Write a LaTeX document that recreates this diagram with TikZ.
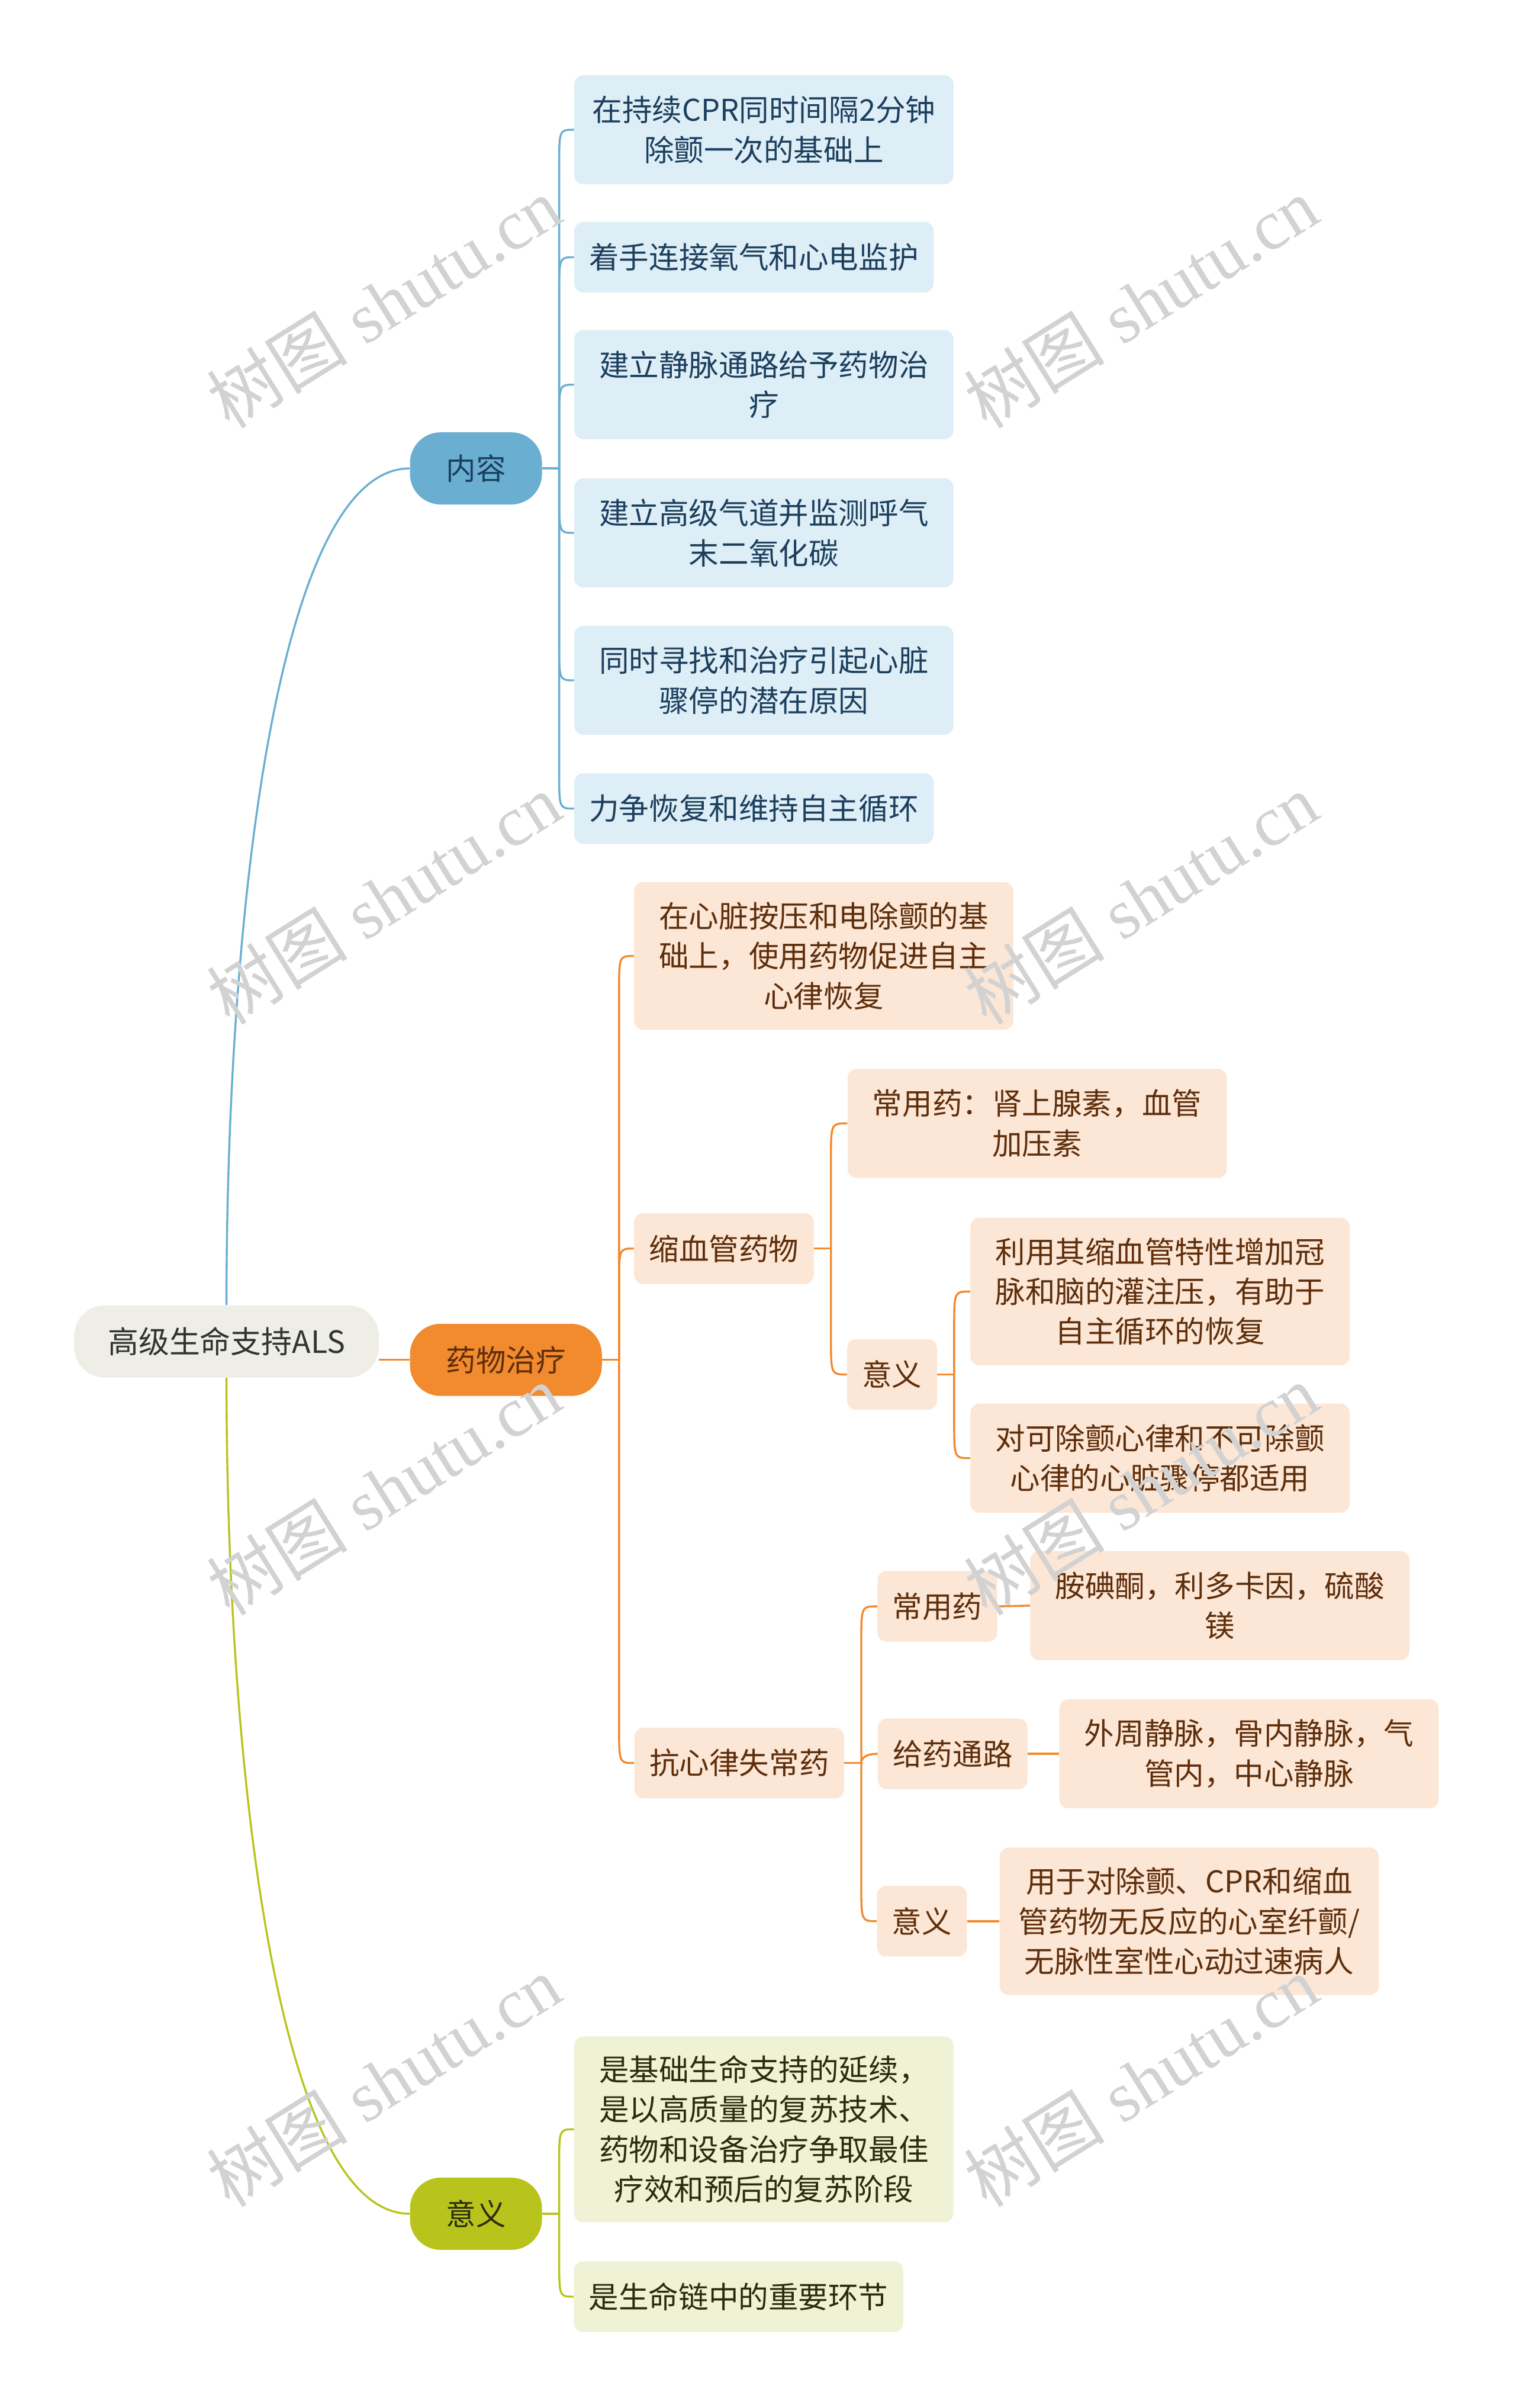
\documentclass[tikz,border=0pt]{standalone}
\usepackage{fontspec}
\newfontfamily\cjk{Noto Sans CJK SC}
\newfontfamily\wmserif{Liberation Serif}
\usetikzlibrary{calc}
\definecolor{rootfill}{HTML}{EEEEE6}
\definecolor{bluemain}{HTML}{6AAFD1}
\definecolor{bluebox}{HTML}{DEEEF6}
\definecolor{bluetext}{HTML}{1C3F5E}
\definecolor{orangemain}{HTML}{F28A2E}
\definecolor{orangebox}{HTML}{FCE6D5}
\definecolor{orangetext}{HTML}{5E2E0B}
\definecolor{greenmain}{HTML}{B8C41C}
\definecolor{greenbox}{HTML}{EFF2D4}
\definecolor{greentext}{HTML}{2A2C0E}
\definecolor{wmgray}{HTML}{D2D2D2}

\tikzset{
  txt/.style={font=\cjk\fontsize{19.5}{26}\selectfont, align=center},
  rootnode/.style={txt, fill=rootfill, text=black!80, rounded corners=20pt,
    minimum height=47pt, inner xsep=22pt, font=\cjk\fontsize{20}{26}\selectfont},
  topic/.style={txt, fill=#1main, text=#1text, rounded corners=20pt,
    minimum height=47pt, inner xsep=23.5pt},
  leaf/.style={txt, fill=#1box, text=#1text, rounded corners=6pt,
    inner xsep=9.75pt, inner ysep=4pt, minimum height=46pt},
  wrapbox/.style={text width=227.5pt},
  l2/.style={minimum height=71pt},
  l3/.style={minimum height=96pt},
  l4/.style={minimum height=121pt},
  link/.style={line width=1.3pt, draw=#1main},
  kidline/.style={link=#1, to path={-- ($(\tikztostart|-\tikztotarget)!24pt!(\tikztostart)$)
    .. controls (\tikztostart|-\tikztotarget) .. (\tikztotarget)}},
  wmtext/.style={text=wmgray, rotate=32, font=\wmserif\fontsize{46}{46}\selectfont}
}

\begin{document}
\begin{tikzpicture}[x=1pt,y=-1pt]
  \useasboundingbox[fill=white] (0,0) rectangle (987,1568);

  % root and main topics
  \node[rootnode] (root) at (147.5,873.5) {高级生命支持ALS};
  \node[topic=blue] (nr) at (310,305) {内容};
  \node[topic=orange] (nd) at (329.5,885.5) {药物治疗};
  \node[topic=green] (ny) at (310,1441.5) {意义};

  \draw[link=blue] (root.north) .. controls ($(root.north)+(0,-250)$) and ($(nr.west)+(-87,0)$) .. (nr.west);
  \draw[link=orange] (root.east |- nd.west) -- (nd.west);
  \draw[link=green] (root.south) .. controls ($(root.south)+(0,250)$) and ($(ny.west)+(-87,0)$) .. (ny.west);

  % 内容
  \node[leaf=blue, wrapbox, l2] (a1) at (497.5,84.5) {在持续CPR同时间隔2分钟\\除颤一次的基础上};
  \node[leaf=blue] (a2) at (491,167.5) {着手连接氧气和心电监护};
  \node[leaf=blue, wrapbox, l2] (a3) at (497.5,250.5) {建立静脉通路给予药物治\\疗};
  \node[leaf=blue, wrapbox, l2] (a4) at (497.5,347) {建立高级气道并监测呼气\\末二氧化碳};
  \node[leaf=blue, wrapbox, l2] (a5) at (497.5,443) {同时寻找和治疗引起心脏\\骤停的潜在原因};
  \node[leaf=blue] (a6) at (491,526.5) {力争恢复和维持自主循环};

  \coordinate (jA) at ($(nr.east)+(11,0)$);
  \draw[link=blue] (nr.east) -- (jA);
  \foreach \k in {a1,a2,a3,a4,a5,a6}
    \draw[kidline=blue] (jA) to (\k.west);

  % 药物治疗
  \node[leaf=orange, wrapbox, l3] (d1) at (536.5,622.5) {在心脏按压和电除颤的基\\础上，使用药物促进自主\\心律恢复};
  \node[leaf=orange] (d2) at (471.5,813) {缩血管药物};
  \node[leaf=orange] (d3) at (481.5,1148) {抗心律失常药};

  \coordinate (jD) at ($(nd.east)+(11,0)$);
  \draw[link=orange] (nd.east) -- (jD);
  \foreach \k in {d1,d2,d3}
    \draw[kidline=orange] (jD) to (\k.west);

  \node[leaf=orange, wrapbox, l2] (d21) at (675.5,731.5) {常用药：肾上腺素，血管\\加压素};
  \node[leaf=orange] (d22) at (581,895) {意义};
  \node[leaf=orange, wrapbox, l3] (d221) at (755.5,841) {利用其缩血管特性增加冠\\脉和脑的灌注压，有助于\\自主循环的恢复};
  \node[leaf=orange, wrapbox, l2] (d222) at (755.5,949.5) {对可除颤心律和不可除颤\\心律的心脏骤停都适用};

  \coordinate (jD2) at ($(d2.east)+(11,0)$);
  \draw[link=orange] (d2.east) -- (jD2);
  \foreach \k in {d21,d22}
    \draw[kidline=orange] (jD2) to (\k.west);
  \coordinate (jD22) at ($(d22.east)+(11,0)$);
  \draw[link=orange] (d22.east) -- (jD22);
  \foreach \k in {d221,d222}
    \draw[kidline=orange] (jD22) to (\k.west);

  \node[leaf=orange] (d31) at (610.5,1046) {常用药};
  \node[leaf=orange, wrapbox, l2] (d311) at (794.5,1045.5) {胺碘酮，利多卡因，硫酸\\镁};
  \node[leaf=orange] (d32) at (620.5,1142) {给药通路};
  \node[leaf=orange, wrapbox, l2] (d321) at (813.5,1142) {外周静脉，骨内静脉，气\\管内，中心静脉};
  \node[leaf=orange] (d33) at (600.5,1251) {意义};
  \node[leaf=orange, wrapbox, l3] (d331) at (774.5,1251) {用于对除颤、CPR和缩血\\管药物无反应的心室纤颤/\\无脉性室性心动过速病人};

  \coordinate (jD3) at ($(d3.east)+(11,0)$);
  \draw[link=orange] (d3.east) -- (jD3);
  \draw[kidline=orange] (jD3) to (d31.west);
  \draw[link=orange] (jD3) to[out=90,in=180] (d32.west);
  \draw[kidline=orange] (jD3) to (d33.west);
  \draw[link=orange] (d31.east) -- (d311.west);
  \draw[link=orange] (d32.east) -- (d321.west);
  \draw[link=orange] (d33.east) -- (d331.west);

  % 意义
  \node[leaf=green, wrapbox, l4] (y1) at (497.5,1386.5) {是基础生命支持的延续，\\是以高质量的复苏技术、\\药物和设备治疗争取最佳\\疗效和预后的复苏阶段};
  \node[leaf=green] (y2) at (481,1495.5) {是生命链中的重要环节};

  \coordinate (jY) at ($(ny.east)+(11,0)$);
  \draw[link=green] (ny.east) -- (jY);
  \foreach \k in {y1,y2}
    \draw[kidline=green] (jY) to (\k.west);

  % watermarks
  \foreach \wx/\wy [count=\i] in {250/197,743/197,250/585,743/585,250/970,743/970,250/1355,743/1355}
    \node[wmtext] (wm\i) at (\wx,\wy) {{\cjk 树图} shutu.cn};
\end{tikzpicture}
\end{document}
